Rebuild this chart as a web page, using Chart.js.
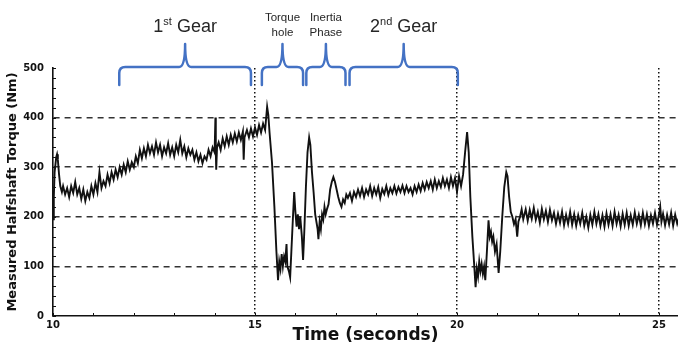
<!DOCTYPE html>
<html>
<head>
<meta charset="utf-8">
<script src="https://cdn.jsdelivr.net/npm/chart.js@4.4.1/dist/chart.umd.min.js"></script>
<style>
  html, body { margin: 0; padding: 0; background: #ffffff; }
  #wrap { width: 678px; height: 344px; position: relative; }
</style>
</head>
<body>
<div id="wrap"><canvas id="c" width="678" height="344"></canvas></div>
<script>
// ---- DATA ----
const time = [
  10.00,10.02,10.04,10.06,10.08,10.10,10.12,10.15,10.18,10.22,10.25,10.30,10.35,10.40,10.45,10.50,10.55,10.60,10.65,10.70,10.75,10.80,10.85,10.90,10.95,11.00,
  11.05,11.10,11.15,11.20,11.25,11.30,11.35,11.40,11.45,11.50,11.55,11.60,11.65,11.70,11.75,11.80,11.85,11.90,11.95,12.00,12.05,12.10,12.15,12.20,12.25,12.30,12.35,12.40,
  12.45,12.50,12.55,12.60,12.65,12.70,12.75,12.80,12.85,12.90,12.95,13.00,13.05,13.10,13.15,13.20,13.25,13.30,13.35,13.40,13.45,13.50,13.55,13.60,13.65,13.70,13.75,13.80,13.85,13.90,13.95,14.00,14.02,14.03,14.04,14.06,
  14.10,14.15,14.20,14.25,14.30,14.35,14.40,14.45,14.50,14.55,14.60,14.65,14.70,14.72,14.74,14.80,14.85,14.90,14.95,15.00,15.05,15.10,15.15,15.20,15.25,15.30,15.33,
  15.36,15.42,15.48,15.53,15.57,15.60,15.63,15.66,15.69,15.72,15.75,15.78,15.80,15.84,15.87,15.90,15.94,15.97,16.00,16.03,16.06,16.09,16.12,16.16,16.19,16.22,16.26,16.30,16.34,16.37,16.41,16.45,16.49,16.52,16.55,16.57,16.60,16.63,16.66,16.69,16.72,16.75,16.78,16.82,16.86,16.90,16.94,16.98,17.02,17.06,17.10,17.14,17.18,17.22,17.26,17.30,17.35,
  17.40,17.45,17.50,17.55,17.60,17.65,17.70,17.75,17.80,17.85,17.90,17.95,18.00,18.05,18.10,18.15,18.20,18.25,18.30,18.35,18.40,18.45,18.50,18.55,18.60,18.65,18.70,18.75,18.80,18.85,18.90,18.95,19.00,19.05,19.10,19.15,19.20,19.25,19.30,19.35,19.40,19.45,19.50,19.55,19.60,19.65,19.70,19.75,19.80,19.85,19.90,19.95,20.00,20.05,20.10,20.15,
  20.20,20.25,20.29,20.33,20.38,20.42,20.46,20.49,20.52,20.55,20.58,20.61,20.64,20.67,20.70,20.74,20.78,20.81,20.84,20.87,20.90,20.94,20.98,21.03,21.07,21.12,21.17,21.22,21.25,21.29,21.33,21.37,21.41,21.45,21.49,21.52,21.56,21.60,21.64,
  21.70,21.75,21.80,21.85,21.90,21.95,22.00,22.05,22.10,22.15,22.20,22.25,22.30,22.35,22.40,22.45,22.50,22.55,22.60,22.65,22.70,22.75,22.80,22.85,22.90,22.95,23.00,23.05,23.10,23.15,23.20,23.25,23.30,23.35,23.40,23.45,23.50,23.55,23.60,23.65,23.70,23.75,23.80,23.85,23.90,23.95,24.00,24.05,24.10,24.15,24.20,24.25,24.30,24.35,24.40,24.45,24.50,24.55,24.60,24.65,24.70,24.75,24.80,24.85,24.90,24.95,25.00,25.03,25.06,25.10,25.15,25.20,25.25,25.30,25.35,25.40,25.45,25.50
];
const torque = [
  195,240,290,305,320,326,315,285,262,250,262,245,258,240,262,248,270,245,258,236,255,232,250,238,262,245,
  268,250,290,258,272,262,285,268,290,275,295,280,300,285,305,290,312,295,310,300,322,308,335,318,338,322,345,328,
  342,325,350,330,345,322,340,328,348,325,340,322,345,330,355,328,342,320,338,325,335,315,330,312,325,308,322,315,335,322,340,330,400,330,295,340,
  350,335,358,342,362,345,365,350,368,352,370,355,372,315,360,375,360,378,362,380,365,385,370,388,375,422,405,
  370,310,220,130,72,110,95,125,100,120,110,145,100,90,78,130,200,250,210,180,205,175,200,160,113,170,260,330,360,345,290,250,205,190,175,155,190,175,205,195,220,205,215,225,255,270,280,270,255,240,228,220,235,228,245,238,248,
  232,250,240,255,242,258,240,255,245,262,242,258,245,260,238,256,246,262,244,258,248,262,247,260,250,263,248,262,250,258,245,262,250,265,252,268,255,270,258,272,255,275,258,272,260,278,262,275,258,280,262,278,250,282,262,285,
  330,371,330,240,160,110,58,95,80,110,90,105,85,100,72,130,193,160,170,150,160,130,145,87,130,200,260,290,282,240,210,200,185,195,160,190,200,215,195,
  215,192,214,196,218,194,210,188,216,195,212,190,214,193,208,186,206,188,210,183,204,186,210,184,205,182,203,186,208,182,200,178,204,184,210,186,205,182,203,180,207,184,205,182,210,186,204,181,206,184,208,182,203,184,209,186,204,183,208,185,205,182,203,186,208,184,205,220,190,206,183,204,185,208,182,204,186,200
];
const xTickLabels = [10, 15, 20, 25];
const yTickLabels = [0, 100, 200, 300, 400, 500];
const phaseStart = [11.64, 15.17, 16.27, 17.34];
const phaseEnd   = [14.90, 16.19, 17.24, 20.02];
const phaseLabels = [
  [[['1', 0], ['st', 1], [' Gear', 0]]],
  [[['Torque', 0]], [['hole', 0]]],
  [[['Inertia', 0]], [['Phase', 0]]],
  [[['2', 0], ['nd', 1], [' Gear', 0]]]
];

// ---- CHART ----
const points = time.map((t, i) => ({ x: t, y: torque[i] }));
const BOLD = 'DejaVu Sans';

function drawBrace(ctx, x1, x2, yEnd, yBar, yTip) {
  const r = 6;
  const xc = (x1 + x2) / 2;
  ctx.beginPath();
  ctx.moveTo(x1, yEnd);
  ctx.lineTo(x1, yBar + r);
  ctx.quadraticCurveTo(x1, yBar, x1 + r, yBar);
  ctx.lineTo(xc - r, yBar);
  ctx.quadraticCurveTo(xc, yBar, xc, yTip);
  ctx.quadraticCurveTo(xc, yBar, xc + r, yBar);
  ctx.lineTo(x2 - r, yBar);
  ctx.quadraticCurveTo(x2, yBar, x2, yBar + r);
  ctx.lineTo(x2, yEnd);
  ctx.stroke();
}

function drawLine(ctx, segs, cx, baseline, big) {
  const mainFont = big ? '18px "Liberation Sans", Arial, sans-serif' : '11.5px "Liberation Sans", Arial, sans-serif';
  const supFont = '11px "Liberation Sans", Arial, sans-serif';
  let total = 0;
  const widths = segs.map(([txt, sup]) => {
    ctx.font = sup ? supFont : mainFont;
    const w = ctx.measureText(txt).width;
    total += w;
    return w;
  });
  let xx = cx - total / 2;
  segs.forEach(([txt, sup], i) => {
    ctx.font = sup ? supFont : mainFont;
    ctx.fillText(txt, xx, sup ? baseline - 7 : baseline);
    xx += widths[i];
  });
}

const extras = {
  id: 'extras',
  afterDraw(chart) {
    const { ctx, chartArea, scales } = chart;
    const xs = scales.x, ys = scales.y;
    ctx.save();
    // minor ticks
    ctx.strokeStyle = '#111';
    ctx.lineWidth = 1;
    for (let t = Math.ceil(xs.min); t <= xs.max; t += 1) {
      const px = Math.round(xs.getPixelForValue(t)) + 0.5;
      ctx.beginPath();
      ctx.moveTo(px, chartArea.bottom);
      ctx.lineTo(px, chartArea.bottom - 3);
      ctx.stroke();
    }
    for (let v = ys.min; v <= ys.max; v += 20) {
      const py = Math.round(ys.getPixelForValue(v)) + 0.5;
      ctx.beginPath();
      ctx.moveTo(chartArea.left, py);
      ctx.lineTo(chartArea.left + 3, py);
      ctx.stroke();
    }
    // phase braces and labels
    ctx.strokeStyle = '#4472C4';
    ctx.lineWidth = 2.5;
    ctx.lineJoin = 'round';
    ctx.lineCap = 'round';
    ctx.fillStyle = '#262626';
    ctx.textBaseline = 'alphabetic';
    ctx.textAlign = 'left';
    phaseStart.forEach((s, i) => {
      const x1 = xs.getPixelForValue(s);
      const x2 = xs.getPixelForValue(phaseEnd[i]);
      drawBrace(ctx, x1, x2, 85, 67, 44);
      const lines = phaseLabels[i];
      const cx = (x1 + x2) / 2;
      if (lines.length === 1) {
        drawLine(ctx, lines[0], cx, 32, true);
      } else {
        drawLine(ctx, lines[0], cx, 21, false);
        drawLine(ctx, lines[1], cx, 36, false);
      }
    });
    ctx.restore();
  }
};

new Chart(document.getElementById('c'), {
  type: 'line',
  data: {
    datasets: [{
      data: points,
      borderColor: '#111111',
      borderWidth: 1.9,
      pointRadius: 0,
      tension: 0,
      fill: false
    }]
  },
  options: {
    responsive: false,
    animation: false,
    parsing: true,
    layout: { padding: { top: 68, left: 0, right: 0, bottom: 0 } },
    plugins: { legend: { display: false }, tooltip: { enabled: false } },
    scales: {
      x: {
        type: 'linear',
        min: 10,
        max: 25.47,
        afterFit(scale) { scale.height = 28; },
        ticks: {
          stepSize: 5,
          includeBounds: false,
          autoSkip: false,
          maxRotation: 0,
          padding: 3,
          color: '#111',
          font: { family: BOLD, weight: 'bold', size: 10 },
          callback: (v) => xTickLabels.includes(v) ? String(v) : ''
        },
        grid: {
          drawTicks: false,
          lineWidth: 1.5,
          color: (c) => (c.tick && c.tick.value > 10) ? '#111' : 'rgba(0,0,0,0)'
        },
        border: { display: true, color: '#111', width: 1.6, dash: [1.5, 2.5] },
        title: {
          display: true,
          text: 'Time (seconds)',
          color: '#111',
          font: { family: BOLD, weight: 'bold', size: 17, lineHeight: 1 },
          padding: { top: 0, bottom: 0 }
        }
      },
      y: {
        min: 0,
        max: 500,
        afterFit(scale) { scale.width = 53; },
        ticks: {
          stepSize: 100,
          padding: 9,
          color: '#111',
          font: { family: BOLD, weight: 'bold', size: 10 },
          callback: (v) => yTickLabels.includes(v) ? String(v) : ''
        },
        grid: {
          drawTicks: false,
          lineWidth: 1.5,
          color: (c) => (c.tick && c.tick.value > 0 && c.tick.value < 500) ? '#333' : 'rgba(0,0,0,0)'
        },
        border: { display: true, color: '#111', width: 1.6, dash: [6, 5] },
        title: {
          display: true,
          text: 'Measured Halfshaft Torque (Nm)',
          color: '#111',
          font: { family: BOLD, weight: 'bold', size: 13, lineHeight: 1.2 },
          padding: { top: 5, bottom: 0 }
        }
      }
    }
  },
  plugins: [extras]
});
</script>
</body>
</html>
